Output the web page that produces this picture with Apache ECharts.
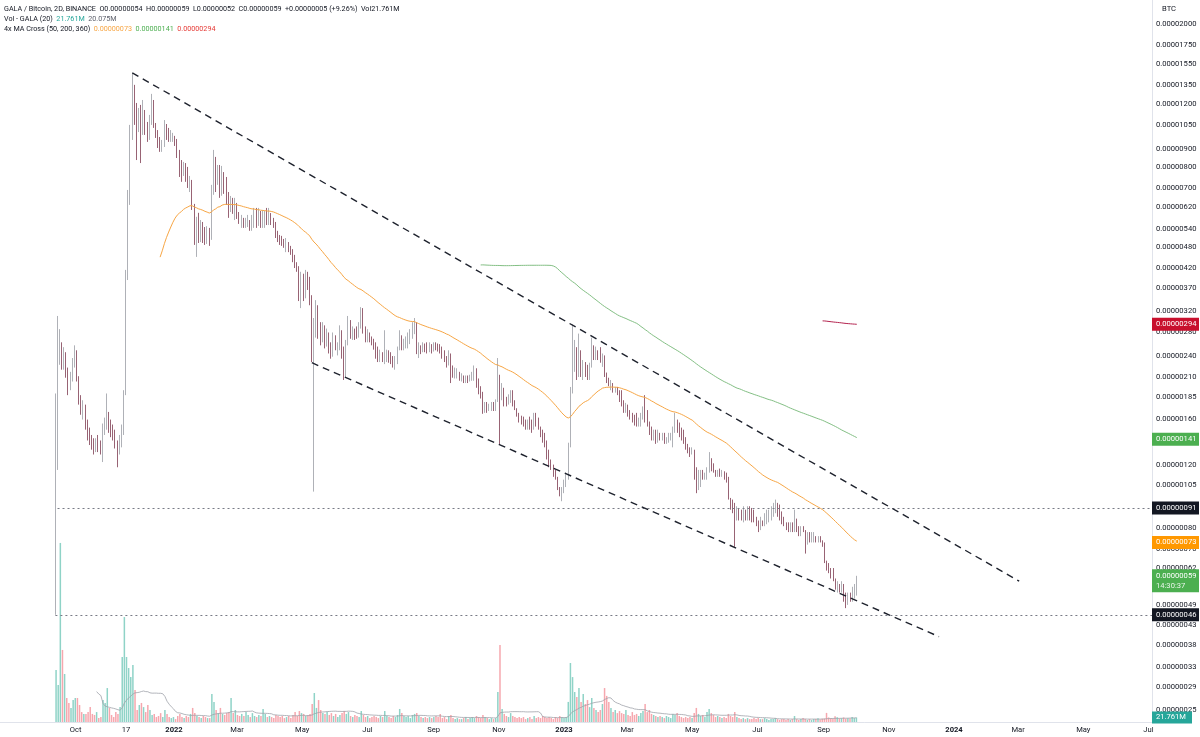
<!DOCTYPE html>
<html>
<head>
<meta charset="utf-8">
<title>GALA / Bitcoin, 2D, BINANCE</title>
<script src="https://cdn.jsdelivr.net/npm/echarts@6/dist/echarts.min.js"></script>
<style>
html, body { margin: 0; padding: 0; background: #fff; }
#chart { width: 1200px; height: 737px; }
</style>
</head>
<body>
<div id="chart"></div>
<script>
// GALA/BTC 2D candles, prices in satoshi (1e-8 BTC), volume in millions GALA
const firstDay = '2021-09-12';
const firstOpen = 46;
const closes = [
  118,234,249,224,246,213,200,209,227,249, 209,181,170,176,155,148,140,136,134,138,
  135,132,150,152,165,155,150,145,136,132, 140,150,187,403,650,985,1272,1083,1050,1140,
  985,1155,1016,966,1083,1231,1050,985,924,906, 924,1030,1003,966,972,979,942,867,787,763,
  813,748,725,739,630,504,537,510,554,530, 504,530,510,693,813,716,787,672,777,693,
  659,602,650,610,638,591,572,580,554,565, 572,544,572,602,554,602,565,580,591,572,
  598,572,554,520,510,504,497,488,497,479, 466,449,429,421,354,390,347,403,378,343,
  241,283,332,298,266,292,257,279,249,241, 274,252,257,283,241,223,262,302,274,283,
  279,274,292,322,283,268,276,268,262,257, 241,237,246,237,241,246,240,234,231,237,
  252,274,257,262,266,268,277,290,294,249, 252,249,257,254,252,257,252,259,255,252,
  249,241,237,227,241,217,213,216,217,209, 210,206,209,206,208,215,220,200,193,187,
  170,176,170,174,176,175,179,213,187,196, 181,179,183,190,181,172,165,160,158,155,
  152,158,155,150,165,162,152,145,140,136, 126,120,118,113,110,104,99,102,108,113,
  136,193,227,246,234,249,220,231,213,209, 223,257,241,249,246,234,241,213,206,200,
  202,193,196,191,183,176,170,176,165,162, 160,157,155,160,165,170,168,155,148,142,
  148,138,147,142,145,138,142,144,145,150, 160,150,145,142,138,133,132,128,132,110,
  106,109,113,110,113,116,124,120,116,113, 115,113,115,110,109,97,93,90,89,90,
  87,85,89,85,90,87,86,84,82,79, 84,82,87,88,89,91,93,94,93,85,
  83,82,80,79,81,79,84,80,77,79, 78,72,77,74,75,76,74,75,73,72,
  64,62,60,59,58,55,56,54,56,51, 50,52,51,52,54,59
];
const highs = [
  189,310,285,262,254,241,223,217,237,257, 249,211,187,181,172,160,152,145,142,142,
  145,140,156,162,189,168,160,155,150,140, 145,155,193,416,693,1050,1464,1356,1208,1170,
  1193,1231,1098,1070,1119,1280,1231,1063,1016,972, 954,1083,1056,1030,1016,998,979,960,895,839,
  829,823,803,758,716,634,584,599,572,565, 547,550,544,716,895,856,813,813,808,777,
  753,684,667,659,659,622,602,591,580,580, 591,572,591,618,618,618,606,610,606,618,
  618,595,580,565,534,520,517,507,510,497, 485,475,458,437,426,411,406,416,411,398,
  354,306,343,306,292,298,292,286,274,262, 279,272,262,292,283,255,266,310,302,290,
  286,290,298,328,326,290,285,279,272,268, 262,255,250,246,283,250,249,246,240,240,
  255,283,272,268,272,279,285,298,306,298, 262,257,262,260,262,262,259,262,262,260,
  259,255,249,240,249,244,226,223,222,217, 215,212,212,212,213,217,226,222,208,198,
  191,179,179,177,179,179,182,237,206,202, 189,185,188,193,193,178,170,167,164,163,
  160,160,163,160,167,167,160,153,150,147, 140,132,124,120,116,111,104,104,109,114,
  138,197,294,266,254,277,238,234,230,227, 230,270,254,255,249,254,244,238,216,209,
  206,202,197,197,193,193,181,178,174,170, 167,165,167,162,167,174,187,170,158,153,
  150,150,150,147,147,147,143,147,147,153, 167,160,157,152,150,143,137,134,134,129,
  118,116,116,116,114,118,130,125,121,116, 116,117,116,115,114,111,96,96,94,92,
  91,90,92,90,92,92,91,90,86,84, 86,84,88,90,90,92,94,96,94,92,
  89,86,83,83,83,83,90,85,81,81, 81,79,78,78,78,78,76,76,76,74,
  73,65,64,62,62,57,57,56,57,54, 53,53,53,55,56,59
];
const lows = [
  46,116,227,220,220,209,187,193,204,223, 204,176,165,160,150,140,136,132,128,130,
  130,128,122,145,150,147,143,140,133,118, 128,134,145,187,390,630,954,1050,839,1003,
  823,1030,985,942,954,1050,1030,966,906,884, 884,912,954,942,942,942,918,850,753,730,
  758,730,702,684,610,488,452,494,497,494, 488,491,485,504,672,684,730,659,668,676,
  630,580,602,595,572,576,558,544,544,544, 547,534,534,544,544,551,544,544,544,554,
  554,554,544,510,497,488,485,479,466,466, 458,437,421,411,341,326,341,354,366,332,
  231,101,270,268,257,262,252,255,244,236, 239,249,241,249,236,206,210,257,268,266,
  266,268,270,286,277,262,262,262,257,250, 236,231,231,231,228,231,230,228,223,220,
  228,249,249,249,252,252,259,268,276,243, 237,243,246,246,244,246,244,247,249,247,
  244,236,231,223,226,202,209,208,208,205, 204,202,202,202,204,205,205,196,188,183,
  166,167,167,169,169,169,169,181,136,181, 174,174,176,178,174,170,163,157,155,153,
  150,150,150,147,150,153,150,143,138,134, 124,118,116,111,109,102,98,95,100,104,
  109,134,189,217,206,210,210,206,210,206, 206,224,234,234,234,230,224,210,202,198,
  193,190,190,187,179,174,167,167,163,160, 157,154,153,153,153,160,157,153,145,140,
  140,137,140,140,140,137,137,138,140,134, 147,147,143,140,137,132,129,126,129,109,
  100,102,104,109,109,109,114,115,114,111, 111,111,111,109,107,96,90,88,71,84,
  84,84,83,84,84,84,83,83,81,78, 79,81,81,82,83,84,86,88,86,84,
  82,81,79,78,78,78,78,78,76,76, 78,68,73,73,73,73,73,73,73,71,
  64,61,60,58,57,54,53,53,53,50, 48,49,50,50,51,52
];
const volumes = [
  251,179,865,348,232,116,92,68,106,116, 116,82,48,39,39,48,72,39,34,48,
  19,24,106,92,164,68,34,24,48,39, 72,314,507,314,261,217,275,155,58,82,
  92,72,48,82,58,34,39,24,
  29,43,24,58,39,24,19,24,14,
  29,39,24,19,29,24,39,68,43,29,
  24,19,29,24,19,19, 135,
  97,58,43,68,39,34,43, 48,116,43,58,34,29,
  39,29,48,34,24,43,29,24,34, 29,63,39,24,29,24,19,34,29,
  24,29,19,24,29,19,34,48,29,53,43,39,29,34,39,
  87,140,68,106,58,43,
  39,48,34,43,29,39,24,34,43,53,39,48,29,24,34,
  29,24,53,34,24,29,19,24,29,24,19,29,24,53,29,24,19,29,24,34,
  63,43,29,24,29,19,34,39,43,29,24,19,24,19,24,
  19,24,29,24,39,19,24,14,29,34,19,14,19,14,14,19,24,14,19,24,19,29,24,19,34,24,19,14,19,14,19,
  145,372,
  63,39,29,24,43,29,24,
  19,24,19,24,14,19,24,14,29,19,24,19,29,24,19,24,19,14,24,19,29,24,19,24,
  97,285,217,145,121,164,97,135,87,106,72,
  116,68,58,48,58,87,164,126,97,68,48,58,43,53,
  43,39,58,34,29,48,34,39,29,43,53,
  87,48,58,39,34,29,24,29,
  24,19,29,24,19,39,34,43,29,24,19,24,19,24,19,
  43,68,39,29,34,24,48,63,43,34,24,29,24,
  19,24,19,39,29,24,48,24,19,14,19,14,19,14,14,19,14,19,14,
  14,19,14,10,14,14,19,14,10,14,14,10,14,10,14,29,14,10,14,19,14,10,14,10,14,
  14.739,18,12,16,17,44,22,18,16,28,23,17,18,22,16,18,17,24,19,21.761
];

const priceTicks = [2000,1750,1550,1350,1200,1050,900,800,700,620,540,480,420,370,320,280,
  240,210,185,160,120,105,80,70,62,49,43,38,33,29,25];
const timeTicks = ['2021-10-01','2021-11-17','2022-01-01','2022-03-01','2022-05-01','2022-07-01',
  '2022-09-01','2022-11-01','2023-01-01','2023-03-01','2023-05-01','2023-07-01','2023-09-01',
  '2023-11-01','2024-01-01','2024-03-01','2024-05-01','2024-07-01'];
const timeTickLabels = ['Oct','17','2022','Mar','May','Jul','Sep','Nov','2023','Mar','May','Jul','Sep',
  'Nov','2024','Mar','May','Jul'];

// drawings
const upperTrend = [['2021-11-23', 1464], ['2024-03-02', 57]];
const lowerTrend = [['2022-05-10', 230], ['2023-12-18', 40]];
const rays = [['2021-09-14', 91], ['2021-09-12', 46]];

// 4x MA Cross: fast line is exponential, the slow ones simple
const maPeriods = [50, 200, 360];
const maTypes = ['ema', 'sma', 'sma'];
const maColors = ['#f7a645', '#83bf84', '#b4234f'];
const maLast = [73, 141, 294];
const volMaLast = 20.075;
const countdown = '14:30:37';

const DAY = 864e5;
const utc = s => { const p = s.split('-').map(Number); return Date.UTC(p[0], p[1] - 1, p[2]); };
const base = utc('2022-01-01');
const xMin = base - 162.84 * DAY, xMax = base + 915.3 * DAY;
const FONT = 'Roboto, "Liberation Sans", sans-serif';
const TXT = '#131722';
const fmt = v => (v / 1e8).toFixed(8);

const t0 = utc(firstDay);
const times = closes.map((_, i) => t0 + i * 2 * DAY);
const opens = closes.map((c, i) => i === 0 ? firstOpen : closes[i - 1]);
const candles = closes.map((c, i) => {
  const o = opens[i];
  return [times[i], o, c, Math.min(lows[i], o, c), Math.max(highs[i], o, c)];
});
function sma(arr, n) {
  const out = [];
  for (let i = n - 1; i < arr.length; i++) {
    let s = 0;
    for (let k = i - n + 1; k <= i; k++) s += arr[k];
    out.push([times[i], s / n]);
  }
  return out;
}
function ema(arr, n) {
  const a = 2 / (n + 1);
  const out = [];
  let e = 0;
  for (let k = 0; k < n; k++) e += arr[k];
  e /= n;
  out.push([times[n - 1], e]);
  for (let i = n; i < arr.length; i++) {
    e = a * arr[i] + (1 - a) * e;
    out.push([times[i], e]);
  }
  return out;
}

const chart = echarts.init(document.getElementById('chart'));
const option = {
  animation: false,
  backgroundColor: '#fff',
  grid: [
    { left: 0, right: 48, top: 0, bottom: 15 },
    { left: 0, right: 48, top: 515, bottom: 15 }
  ],
  xAxis: [
    { type: 'time', gridIndex: 0, min: xMin, max: xMax,
      axisLine: { show: true, lineStyle: { color: '#e0e3eb' } },
      axisTick: { show: false }, axisLabel: { show: false }, splitLine: { show: false } },
    { type: 'time', gridIndex: 1, min: xMin, max: xMax, show: false }
  ],
  yAxis: [
    { type: 'log', logBase: 10, gridIndex: 0, min: 23.2, max: 2331, position: 'right',
      axisLine: { show: true, lineStyle: { color: '#e0e3eb' } },
      axisTick: { show: false }, axisLabel: { show: false }, splitLine: { show: false } },
    { type: 'value', gridIndex: 1, min: 0, max: 1000, show: false }
  ],
  series: [
    {
      name: 'Vol', type: 'bar', xAxisIndex: 1, yAxisIndex: 1, barWidth: 1.5, silent: true, z: 1,
      data: volumes.map((v, i) => ({
        value: [times[i], v],
        itemStyle: { color: closes[i] >= opens[i] ? '#8fd3c7' : '#f6a7ae' }
      }))
    },
    {
      name: 'Vol MA', type: 'line', xAxisIndex: 1, yAxisIndex: 1, showSymbol: false, silent: true, z: 2,
      lineStyle: { color: '#9fa2aa', width: 0.8 },
      data: sma(volumes, 20)
    },
    {
      name: 'GALA/BTC', type: 'candlestick', xAxisIndex: 0, yAxisIndex: 0, z: 3,
      encode: { x: 0, y: [1, 2, 3, 4] },
      barWidth: 1.1,
      itemStyle: { color: '#cdd0d6', color0: '#7e3b50', borderColor: '#9a9da5', borderColor0: '#7e3b50', borderWidth: 0.8 },
      data: candles,
      markLine: {
        symbol: 'none', silent: true, label: { show: false },
        lineStyle: { color: '#787b86', type: [2, 3], width: 1 },
        data: rays.map(r => [{ coord: [utc(r[0]), r[1]] }, { coord: [xMax, r[1]] }])
      }
    },
    ...maPeriods.map((n, k) => ({
      name: 'MA' + n, type: 'line', xAxisIndex: 0, yAxisIndex: 0, showSymbol: false, silent: true, z: 4,
      lineStyle: { color: maColors[k], width: 1 },
      data: maTypes[k] === 'ema' ? ema(closes, n) : sma(closes, n)
    })),
    ...[upperTrend, lowerTrend].map(tl => ({
      type: 'line', xAxisIndex: 0, yAxisIndex: 0, showSymbol: false, silent: true, z: 5,
      lineStyle: { color: '#1e222d', width: 1.4, type: [7, 5] },
      data: tl.map(p => [utc(p[0]), p[1]])
    }))
  ]
};
chart.setOption(option);

// price scale, time scale, labels and legend
const g = [];
const py = v => chart.convertToPixel({ yAxisIndex: 0 }, v);
const px = t => chart.convertToPixel({ xAxisIndex: 0 }, t);
const txt = (x, y, text, extra) => ({
  type: 'text', x, y, z: 100,
  style: Object.assign({ text, fill: TXT, fontSize: 7.6, fontFamily: FONT, verticalAlign: 'middle' }, extra || {})
});

priceTicks.forEach(v => g.push(txt(1156, py(v), fmt(v))));
g.push(txt(1162, 9, 'BTC'));

timeTicks.forEach((d, i) => {
  const bold = /^\d{4}$/.test(timeTickLabels[i]);
  g.push(txt(px(utc(d)), 730, timeTickLabels[i], { align: 'center', fontWeight: bold ? 'bold' : 'normal' }));
});
g.push({ type: 'rect', z: 101, shape: { x: 1154, y: 723, width: 46, height: 14 }, style: { fill: '#fff' } });

const boxes = [
  { v: maLast[2], bg: '#c8102e' },
  { v: maLast[1], bg: '#4caf50' },
  { v: rays[0][1], bg: '#131722' },
  { v: maLast[0], bg: '#ff9800' },
  { v: rays[1][1], bg: '#131722' }
];
boxes.forEach(b => {
  const y = py(b.v);
  g.push({ type: 'rect', z: 102, shape: { x: 1152, y: y - 6.5, width: 47, height: 13 }, style: { fill: b.bg } });
  g.push(Object.assign(txt(1156, y, fmt(b.v), { fill: '#fff' }), { z: 103 }));
});
const last = closes[closes.length - 1];
const lastOpen = opens[opens.length - 1];
const yl = py(last);
g.push({ type: 'rect', z: 102, shape: { x: 1152, y: yl - 6.5, width: 47, height: 23 }, style: { fill: '#4caf50' } });
g.push(Object.assign(txt(1156, yl, fmt(last), { fill: '#fff' }), { z: 103 }));
g.push(Object.assign(txt(1156, yl + 10, countdown, { fill: '#e8f5e9' }), { z: 103 }));

const lastVol = volumes[volumes.length - 1];
const yv = chart.convertToPixel({ yAxisIndex: 1 }, lastVol);
g.push({ type: 'rect', z: 102, shape: { x: 1152, y: yv - 6, width: 40, height: 12 }, style: { fill: '#26a69a' } });
g.push(Object.assign(txt(1156, yv, lastVol.toFixed(3) + 'M', { fill: '#fff' }), { z: 103 }));

// legend
const i = closes.length - 1;
const chg = last - lastOpen;
const LF = 7.2;
const st = c => ({ fill: c, fontSize: LF, fontFamily: FONT });
const rich = {
  t: st(TXT), v: st(TXT), teal: st('#26a69a'), grey: st('#5d606b'),
  o: st(maColors[0]), gr: st('#4caf50'), r: st('#e53935'), s: { fontSize: LF, width: 3.5 }
};
const sp = '{s| }';
const line1 = '{t|GALA / Bitcoin, 2D, BINANCE}' + sp + '{t|O}{v|' + fmt(lastOpen) + '}' + sp + '{t|H}{v|' + fmt(candles[i][4]) +
  '}' + sp + '{t|L}{v|' + fmt(candles[i][3]) + '}' + sp + '{t|C}{v|' + fmt(last) + '}' + sp + '{v|' + (chg >= 0 ? '+' : '') + fmt(chg) +
  ' (' + (chg >= 0 ? '+' : '') + (chg / lastOpen * 100).toFixed(2) + '%)}' + sp + '{t|Vol}{v|' + lastVol.toFixed(3) + 'M}';
const line2 = '{t|Vol - GALA (20)}' + sp + '{teal|' + lastVol.toFixed(3) + 'M}' + sp + '{grey|' + volMaLast.toFixed(3) + 'M}';
const line3 = '{t|4x MA Cross (50, 200, 360)}' + sp + '{o|' + fmt(maLast[0]) + '}' + sp + '{gr|' + fmt(maLast[1]) + '}' + sp + '{r|' + fmt(maLast[2]) + '}';
[line1, line2, line3].forEach((s, k) => {
  g.push({ type: 'text', x: 4, y: 9 + k * 10, z: 100, style: { text: s, rich, verticalAlign: 'middle', fontSize: LF, fontFamily: FONT } });
});

chart.setOption({ graphic: g });
</script>
</body>
</html>
